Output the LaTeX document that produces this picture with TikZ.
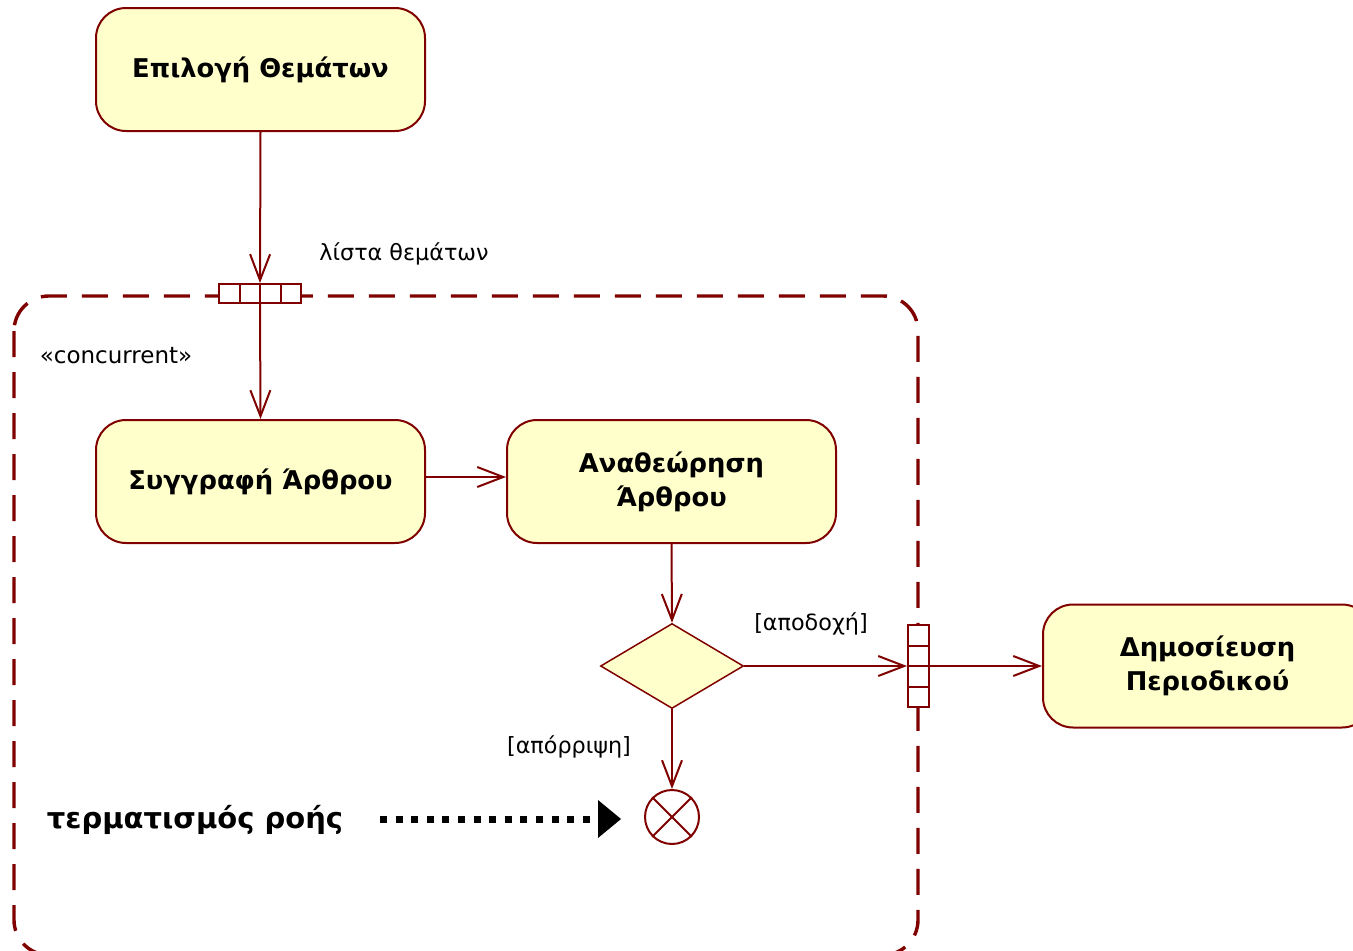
\documentclass[tikz,border=0pt]{standalone}
\usepackage{fontspec}
\setmainfont{DejaVu Sans}
\usetikzlibrary{arrows.meta,shapes.geometric}
\definecolor{umlred}{HTML}{800000}
\definecolor{umlfill}{HTML}{FFFFCC}
\tikzset{
  action/.style={draw=umlred, fill=umlfill, line width=2pt, rounded corners=30pt,
    minimum width=329pt, minimum height=123pt, align=center,
    font=\fontsize{25.8}{34}\selectfont\bfseries},
  flow/.style={draw=umlred, line width=2pt, -{Straight Barb[length=26pt,width=20pt,line width=2pt]}},
  plainflow/.style={draw=umlred, line width=2pt},
  guard/.style={font=\fontsize{22.3}{26}\selectfont, inner sep=0pt},
  pinbox/.style={draw=umlred, fill=white, line width=2pt, inner sep=0pt},
}
\begin{document}
\begin{tikzpicture}[x=1pt,y=-1pt]
\useasboundingbox (0,0) rectangle (1353,951);
\fill[white] (0,0) rectangle (1353,951);

% expansion region
\draw[umlred, line width=3.4pt, dash pattern=on 26pt off 15pt, rounded corners=35pt]
  (14,296) rectangle (918,955);
\node[font=\fontsize{23}{26}\selectfont, inner sep=0pt] (stereo) at (116,356) {«concurrent»};

% actions
\node[action] (select) at (260.5,69.5) {Επιλογή Θεμάτων};
\node[action] (write) at (260.5,481.5) {Συγγραφή Άρθρου};
\node[action] (review) at (671.5,481.5) {Αναθεώρηση\\Άρθρου};
\node[action] (publish) at (1207.5,666) {Δημοσίευση\\Περιοδικού};

% decision and flow final
\node[diamond, draw=umlred, fill=umlfill, line width=1.5pt, minimum width=143pt,
  minimum height=85pt, inner sep=0pt, aspect=1.68] (decide) at (672,666) {};
\node[circle, draw=umlred, fill=white, line width=2pt, minimum size=54pt, inner sep=0pt]
  (final) at (672,817) {};
\draw[umlred, line width=2pt] (final.north west) -- (final.south east)
  (final.north east) -- (final.south west);

% input pin (four cells)
\node[pinbox, minimum width=82pt, minimum height=19pt] (inpin) at (260,293.5) {};
\draw[umlred, line width=2pt] (239.5,284) -- (239.5,303) (280.5,284) -- (280.5,303);
% output pin (four cells)
\node[pinbox, minimum width=21pt, minimum height=82pt] (outpin) at (918.5,666) {};
\draw[umlred, line width=2pt] (908,645.5) -- (929,645.5) (908,686.5) -- (929,686.5);

% connectors
\draw[flow] (select.south) -- (inpin.north);
\draw[plainflow] (inpin.north) -- (inpin.south);
\draw[flow] (inpin.south) -- (write.north);
\draw[flow] ([yshift=4.5pt]write.east) -- ([yshift=4.5pt]review.west);
\draw[flow] (review.south) -- (decide.north);
\draw[flow] (decide.east) -- (outpin.west);
\draw[plainflow] (outpin.west) -- (outpin.east);
\draw[flow] (outpin.east) -- (publish.west);
\draw[flow] (decide.south) -- (final.north);

% labels
\node[guard] (ltopics) at (404,254) {λίστα θεμάτων};
\node[guard] (laccept) at (811,624) {[αποδοχή]};
\node[guard] (lreject) at (569,747) {[απόρριψη]};

% annotation
\node[font=\fontsize{29}{32}\selectfont\bfseries, inner sep=0pt] (note) at (195,820) {τερματισμός ροής};
\coordinate (dotstart) at (380,819);
\coordinate (dotend) at (600,819);
\draw[black, line width=7pt, dash pattern=on 7pt off 8.6pt] (dotstart) -- (dotend);
\fill[black] (598,800) -- (621,819) -- (598,838) -- cycle;
\end{tikzpicture}
\end{document}
